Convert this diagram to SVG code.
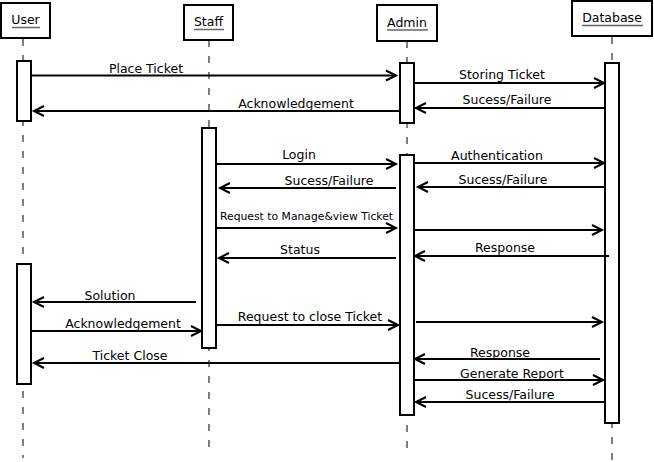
<svg xmlns="http://www.w3.org/2000/svg" width="654" height="462" viewBox="0 0 654 462">
<defs>
<marker id="arr" markerUnits="userSpaceOnUse" markerWidth="14" markerHeight="14" refX="11" refY="7" orient="auto">
<path d="M1,2 L11,7 L1,12" fill="none" stroke="#000" stroke-width="2"/>
</marker>
<style>
.box{fill:#fff;stroke:#000;stroke-width:2}
.act{fill:#fff;stroke:#000;stroke-width:2}
.life{stroke:#555;stroke-width:1.5;stroke-dasharray:7 9;fill:none}
.ul{stroke:#666;stroke-width:1.5}
.hdr{font-family:"DejaVu Sans",sans-serif;font-size:12.5px;text-anchor:middle;fill:#000}
.lbl{font-family:"DejaVu Sans",sans-serif;font-size:12.5px;text-anchor:middle;fill:#000}
.sm{font-family:"DejaVu Sans",sans-serif;font-size:10.8px;fill:#000}
.msg{stroke:#000;stroke-width:2;fill:none;marker-end:url(#arr)}
</style>
</defs>
<rect width="654" height="462" fill="#fff"/>

<g id="lifelines">
<line class="life" x1="23" y1="39" x2="23" y2="458"/>
<line class="life" x1="209" y1="40" x2="209" y2="456"/>
<line class="life" x1="407" y1="41" x2="407" y2="456"/>
<line class="life" x1="612" y1="37" x2="612" y2="460"/>
</g>

<g id="User">
<rect class="box" x="1" y="3" width="49" height="35"/>
<text class="hdr" x="25.5" y="24">User</text>
<line class="ul" x1="12" y1="27.5" x2="40" y2="27.5"/>
<rect class="act" x="17" y="61" width="14" height="60"/>
<rect class="act" x="17" y="264" width="14" height="120"/>
</g>

<g id="Staff">
<rect class="box" x="184" y="5" width="49" height="35"/>
<text class="hdr" x="208.5" y="26">Staff</text>
<line class="ul" x1="194" y1="29.5" x2="224" y2="29.5"/>
<rect class="act" x="202" y="128" width="14" height="220"/>
</g>

<g id="Admin">
<rect class="box" x="377" y="5" width="60" height="36"/>
<text class="hdr" x="407" y="27">Admin</text>
<line class="ul" x1="387" y1="30" x2="428" y2="30"/>
<rect class="act" x="400" y="63" width="14" height="60"/>
<rect class="act" x="400" y="155" width="14" height="260"/>
</g>

<g id="Database">
<rect class="box" x="572" y="1" width="80" height="35"/>
<text class="hdr" x="612" y="22">Database</text>
<line class="ul" x1="582" y1="25.5" x2="643" y2="25.5"/>
<rect class="act" x="605" y="63" width="14" height="360"/>
</g>

<g id="connectors">
<line class="msg" x1="31" y1="75.5" x2="396" y2="75.5"/>
<line class="msg" x1="400" y1="111" x2="34" y2="111"/>
<line class="msg" x1="414" y1="83" x2="604" y2="83"/>
<line class="msg" x1="605" y1="108" x2="416" y2="108"/>
<line class="msg" x1="216" y1="164" x2="396" y2="164"/>
<line class="msg" x1="396" y1="188" x2="220" y2="188"/>
<line class="msg" x1="414" y1="163" x2="604" y2="163"/>
<line class="msg" x1="604" y1="187" x2="418" y2="187"/>
<line class="msg" x1="216" y1="228" x2="396" y2="228"/>
<line class="msg" x1="414" y1="230" x2="602" y2="230"/>
<line class="msg" x1="396" y1="258" x2="219" y2="258"/>
<line class="msg" x1="609" y1="256" x2="415" y2="256"/>
<line class="msg" x1="196" y1="302" x2="34" y2="302"/>
<line class="msg" x1="31" y1="331" x2="201" y2="331"/>
<line class="msg" x1="216" y1="325" x2="398" y2="325"/>
<line class="msg" x1="416" y1="322" x2="602" y2="322"/>
<line class="msg" x1="400" y1="363" x2="34" y2="363"/>
<line class="msg" x1="600" y1="359" x2="415" y2="359"/>
<line class="msg" x1="414" y1="380" x2="603" y2="380"/>
<line class="msg" x1="606" y1="402" x2="416" y2="402"/>
</g>

<g id="labels">
<text class="lbl" x="146" y="73">Place Ticket</text>
<text class="lbl" x="296" y="108">Acknowledgement</text>
<text class="lbl" x="502" y="79">Storing Ticket</text>
<text class="lbl" x="507" y="104">Sucess/Failure</text>
<text class="lbl" x="299" y="159">Login</text>
<text class="lbl" x="329" y="185">Sucess/Failure</text>
<text class="lbl" x="497" y="160">Authentication</text>
<text class="lbl" x="503" y="184">Sucess/Failure</text>
<text class="sm" x="220" y="220">Request to Manage&amp;view Ticket</text>
<text class="lbl" x="300" y="254">Status</text>
<text class="lbl" x="505" y="252">Response</text>
<text class="lbl" x="110" y="300">Solution</text>
<text class="lbl" x="123" y="328">Acknowledgement</text>
<text class="lbl" x="310" y="321">Request to close Ticket</text>
<text class="lbl" x="130" y="360">Ticket Close</text>
<text class="lbl" x="500" y="357">Response</text>
<text class="lbl" x="512" y="378">Generate Report</text>
<text class="lbl" x="510" y="399">Sucess/Failure</text>
</g>
</svg>
